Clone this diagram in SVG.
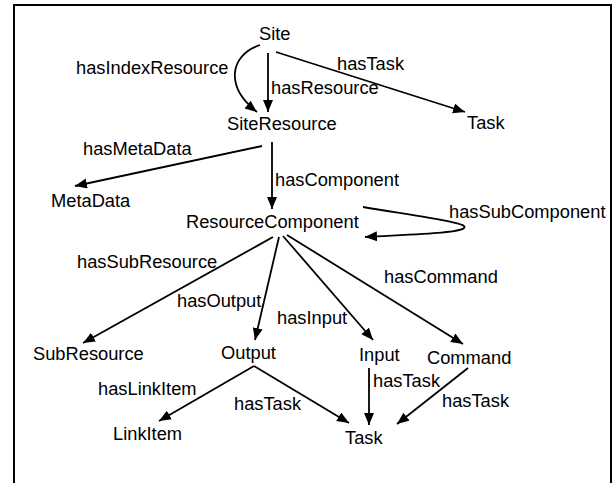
<svg xmlns="http://www.w3.org/2000/svg" width="615" height="483" viewBox="0 0 615 483">
<style>
text{font-family:"Liberation Sans",Arial,sans-serif;font-size:18.3px;fill:#000}
.e{fill:none;stroke:#000;stroke-width:1.8;marker-end:url(#arr)}
</style>
<defs>
<marker id="arr" markerUnits="userSpaceOnUse" markerWidth="13" markerHeight="11" refX="12" refY="5" orient="auto" viewBox="0 0 13 11">
<path d="M0,0 L12,5 L0,10 z" fill="#000"/>
</marker>
</defs>
<rect x="14" y="5" width="597" height="490" fill="#fff" stroke="#000" stroke-width="2"/>
<g id="connectors">
<path class="e" d="M268,53 L268,112"/>
<path class="e" d="M260,45 C228,56 226,88 257,112"/>
<path class="e" d="M276,52 L465,112"/>
<path class="e" d="M262,146 L75,186"/>
<path class="e" d="M272,142 L272,209"/>
<path class="e" d="M363,207 C430,218 470,223 464,228 C459,233 420,234 365,237"/>
<path class="e" d="M273,237 L83,343"/>
<path class="e" d="M279,237 L255,340"/>
<path class="e" d="M283,236 L373,340"/>
<path class="e" d="M287,235 L463,344"/>
<path class="e" d="M254,366 L159,421"/>
<path class="e" d="M254,366 L349,423"/>
<path class="e" d="M369,368 L369,425"/>
<path class="e" d="M468,368 L397,424"/>
<g id="edge-labels">
<text x="76" y="74">hasIndexResource</text>
<text x="271" y="94">hasResource</text>
<text x="337" y="70">hasTask</text>
<text x="83" y="155">hasMetaData</text>
<text x="275" y="186">hasComponent</text>
<text x="449" y="218">hasSubComponent</text>
<text x="77" y="268">hasSubResource</text>
<text x="384" y="283">hasCommand</text>
<text x="177" y="307">hasOutput</text>
<text x="277" y="324">hasInput</text>
<text x="98" y="395">hasLinkItem</text>
<text x="234" y="410">hasTask</text>
<text x="373" y="387">hasTask</text>
<text x="442" y="407">hasTask</text>
</g>
</g>
<g id="node-site"><text x="259" y="40">Site</text></g>
<g id="node-siteresource"><text x="227" y="130">SiteResource</text></g>
<g id="node-task-top"><text x="467" y="129">Task</text></g>
<g id="node-metadata"><text x="51" y="207">MetaData</text></g>
<g id="node-resourcecomponent"><text x="186" y="228">ResourceComponent</text></g>
<g id="node-subresource"><text x="33" y="360">SubResource</text></g>
<g id="node-output"><text x="221" y="359">Output</text></g>
<g id="node-input"><text x="359" y="361">Input</text></g>
<g id="node-command"><text x="427" y="364">Command</text></g>
<g id="node-linkitem"><text x="113" y="440">LinkItem</text></g>
<g id="node-task-bottom"><text x="345" y="444">Task</text></g>
</svg>
